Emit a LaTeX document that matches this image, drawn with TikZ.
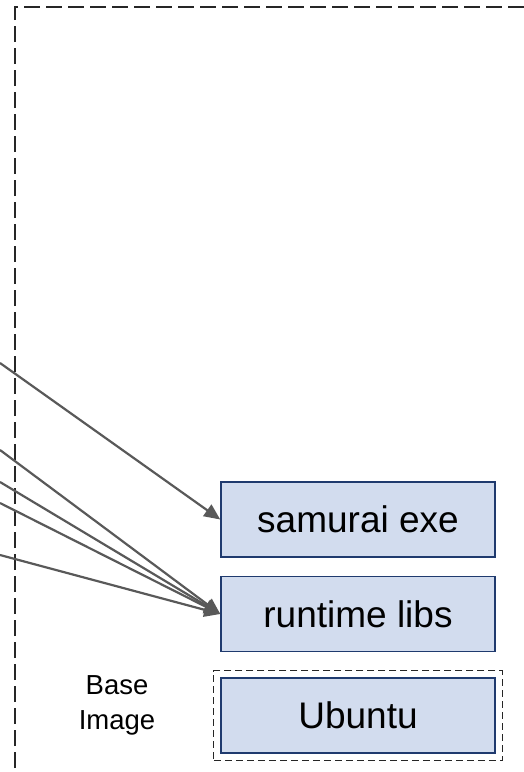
\documentclass[tikz,border=0pt]{standalone}
\usepackage{fontspec}
\setmainfont{Liberation Sans}
\usetikzlibrary{arrows.meta,fit}
\definecolor{boxfill}{HTML}{D2DCEE}
\definecolor{boxline}{HTML}{1F3A6E}
\definecolor{wire}{HTML}{595959}
\definecolor{frame}{HTML}{262626}
\tikzset{
  layer/.style={draw=boxline, line width=1.5pt, fill=boxfill, minimum width=274pt,
    minimum height=75pt, inner sep=0pt, font=\fontsize{37}{42}\selectfont},
  feed/.style={draw=wire, line width=2.2pt, -{Triangle[length=16pt,width=14pt]}},
  outline/.style={draw=frame, line width=1.7pt, dash pattern=on 16pt off 6pt},
  baseframe/.style={draw=frame, line width=1.1pt, dash pattern=on 7pt off 4pt, inner sep=6.5pt},
  caption/.style={align=center, font=\fontsize{27.5}{35}\selectfont}
}
\begin{document}
\begin{tikzpicture}[x=1pt,y=1pt]
  \useasboundingbox (0,0) rectangle (524,-772);
  % outer image frame
  \draw[outline] (15,-790) -- (15,-7) -- (540,-7);
  % layers
  \node[layer] (exe) at (358,-519.5) {samurai exe};
  \node[layer] (libs) at (358,-614) {runtime libs};
  \node[layer] (ubuntu) at (358,-715.5) {Ubuntu};
  \node[baseframe, fit=(ubuntu)] (base) {};
  \node[caption] (basecap) at (117,-705) {Base\\Image};
  % incoming sources
  \coordinate (s1) at (0,-363);
  \coordinate (s2) at (0,-450);
  \coordinate (s3) at (0,-482);
  \coordinate (s4) at (0,-503);
  \coordinate (s5) at (0,-555);
  \draw[feed] (s1) -- (exe.west);
  \draw[feed] (s2) -- (libs.west);
  \draw[feed] (s3) -- (libs.west);
  \draw[feed] (s4) -- (libs.west);
  \draw[feed] (s5) -- (libs.west);
\end{tikzpicture}
\end{document}
